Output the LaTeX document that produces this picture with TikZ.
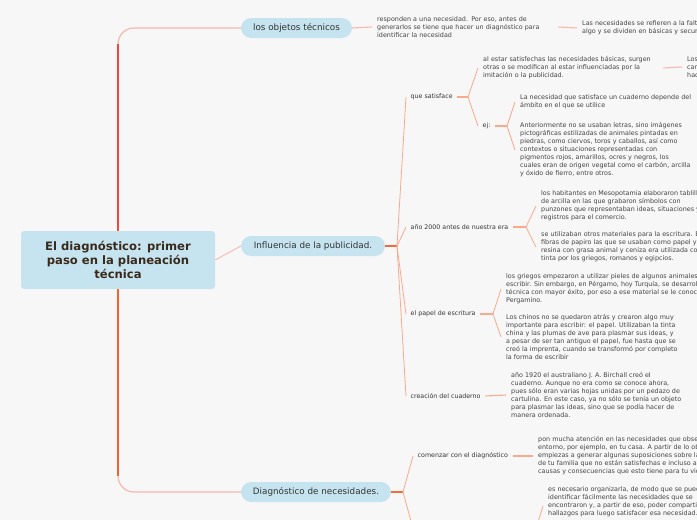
\documentclass[tikz,border=0pt]{standalone}
\usepackage{fontspec}
\setmainfont{DejaVu Sans}
\usetikzlibrary{positioning,calc}

\definecolor{bggray}{HTML}{F7F7F7}
\definecolor{nodeblue}{HTML}{C6E4F0}
\definecolor{rootbrown}{HTML}{3A2A1C}
\definecolor{txtgray}{HTML}{333333}
\definecolor{leafgray}{HTML}{444444}
\definecolor{trunkred}{HTML}{F0493A}
\definecolor{trunkorange}{HTML}{F4632E}
\definecolor{linkpink}{HTML}{F8B8AC}
\definecolor{stemorange}{HTML}{F26A3D}
\definecolor{fanorange}{HTML}{F9A98C}

\tikzset{
  topic/.style={fill=nodeblue, rounded corners=10pt, minimum height=20pt,
    inner sep=0pt, text=txtgray, font=\fontsize{8.8}{10}\selectfont},
  sub/.style={anchor=west, inner xsep=4.5pt, inner ysep=0pt, text=txtgray,
    font=\fontsize{6.3}{8}\selectfont},
  leaf/.style={anchor=west, align=left, inner xsep=5pt, inner ysep=0pt,
    text=leafgray, font=\fontsize{6.4}{8}\selectfont},
  fanline/.style={draw=fanorange, line width=0.8pt},
  stem/.style={draw=stemorange, line width=1.4pt},
  link/.style={draw=linkpink, line width=1.1pt}
}

\begin{document}
\begin{tikzpicture}[x=1pt, y=-1pt]
  \useasboundingbox (0,0) rectangle (697,520);
  \fill[bggray] (0,0) rectangle (697,520);
  \clip (0,0) rectangle (697,520);

  % main nodes
  \node[fill=nodeblue, rounded corners=3pt, minimum width=194pt, minimum height=58pt,
    inner sep=0pt, align=center, text=rootbrown,
    font=\bfseries\fontsize{11.6}{14}\selectfont] (root) at (118,260)
    {El diagnóstico: primer\\paso en la planeación\\técnica};
  \node[topic, minimum width=111pt] (objetos) at (296.5,28) {los objetos técnicos};
  \node[topic, minimum width=144pt] (infl) at (313,246) {Influencia de la publicidad.};
  \node[topic, minimum width=150pt] (diag) at (316,492) {Diagnóstico de necesidades.};

  % los objetos tecnicos
  \node[leaf, text width=176pt] (resp) at (372,27)
    {responden a una necesidad. Por eso, antes de\\generarlos se tiene que hacer un diagnóstico para\\identificar la necesidad};
  \node[leaf] (necesd) at (577,28)
    {Las necesidades se refieren a la falta de\\algo y se dividen en básicas y secundarias.};

  % influencia de la publicidad
  \coordinate (fI) at (397,246);
  \node[sub] (qs) at (406,97) {que satisface};
  \node[sub] (a2000) at (406,227) {año 2000 antes de nuestra era};
  \node[sub] (papel) at (406,314) {el papel de escritura};
  \node[sub] (creac) at (406,396) {creación del cuaderno};

  \coordinate (fQS) at (468,97);
  \node[leaf, text width=175pt] (satisf) at (478,68)
    {al estar satisfechas las necesidades básicas, surgen\\otras o se modifican al estar influenciadas por la\\imitación o la publicidad.};
  \node[leaf] (losc) at (682,67) {Los objetos\\cambian y se\\hacen};
  \node[sub] (ej) at (478,126) {ej:};
  \coordinate (fEj) at (507,126);
  \node[leaf] (cuad) at (515,102)
    {La necesidad que satisface un cuaderno depende del\\ámbito en el que se utilice};
  \node[leaf] (anter) at (515,150)
    {Anteriormente no se usaban letras, sino imágenes\\pictográficas estilizadas de animales pintadas en\\piedras, como ciervos, toros y caballos, así como\\contextos o situaciones representadas con\\pigmentos rojos, amarillos, ocres y negros, los\\cuales eran de origen vegetal como el carbón, arcilla\\y óxido de fierro, entre otros.};

  \coordinate (fA) at (526,227);
  \node[leaf] (habit) at (536,206)
    {los habitantes en Mesopotamia elaboraron tablillas\\de arcilla en las que grabaron símbolos con\\punzones que representaban ideas, situaciones y\\registros para el comercio.};
  \node[leaf] (utiliz) at (536,247)
    {se utilizaban otros materiales para la escritura. Eran las\\fibras de papiro las que se usaban como papel y\\resina con grasa animal y ceniza era utilizada como\\tinta por los griegos, romanos y egipcios.};

  \coordinate (fP) at (493,314);
  \node[leaf] (griegos) at (501,289)
    {los griegos empezaron a utilizar pieles de algunos animales para\\escribir. Sin embargo, en Pérgamo, hoy Turquía, se desarrolló esta\\técnica con mayor éxito, por eso a ese material se le conoce como\\Pergamino.};
  \node[leaf] (chinos) at (501,337)
    {Los chinos no se quedaron atrás y crearon algo muy\\importante para escribir: el papel. Utilizaban la tinta\\china y las plumas de ave para plasmar sus ideas, y\\a pesar de ser tan antiguo el papel, fue hasta que se\\creó la imprenta, cuando se transformó por completo\\la forma de escribir};

  \node[leaf] (a1920) at (506,395)
    {año 1920 el australiano J. A. Birchall creó el\\cuaderno. Aunque no era como se conoce ahora,\\pues sólo eran varias hojas unidas por un pedazo de\\cartulina. En este caso, ya no sólo se tenía un objeto\\para plasmar las ideas, sino que se podía hacer de\\manera ordenada.};

  % diagnostico de necesidades
  \coordinate (fD) at (403,492);
  \node[sub] (comenzar) at (413,456) {comenzar con el diagnóstico};
  \coordinate (sub2) at (414,532);
  \node[leaf] (pon) at (533,456)
    {pon mucha atención en las necesidades que observes en tu\\entorno, por ejemplo, en tu casa. A partir de lo observado\\empiezas a generar algunas suposiciones sobre las necesidades\\de tu familia que no están satisfechas e incluso algunas\\causas y consecuencias que esto tiene para tu vida.};
  \coordinate (fOrg) at (536,528);
  \node[leaf] (esnec) at (543,502)
    {es necesario organizarla, de modo que se pueda\\identificar fácilmente las necesidades que se\\encontraron y, a partir de eso, poder compartir los\\hallazgos para luego satisfacer esa necesidad.};

  % trunks from the root
  \draw[draw=linkpink, line width=1.2pt, rounded corners=16pt] (root.north) |- (objetos.west);
  \draw[draw=trunkred, line width=2pt] (root.north) -- ($(root.north |- objetos.west)+(0,16)$);
  \draw[draw=linkpink, line width=1.2pt, rounded corners=16pt] (root.south) |- (diag.west);
  \draw[draw=trunkorange, line width=2pt] (root.south) -- ($(root.south |- diag.west)+(0,-16)$);
  \draw[link, line width=0.9pt] (root.east) -- (infl.west);

  % connectors
  \draw[link] (objetos.east) -- (resp.west);
  \draw[link] (resp.east) -- (necesd.west);

  \draw[stem] (infl.east) -- (fI);
  \foreach \n in {qs,a2000,papel,creac}
    \draw[fanline] (fI) -- (\n.west);

  \draw[fanline, line width=1.1pt] (qs.east) -- (fQS);
  \draw[fanline] (fQS) -- (satisf.west);
  \draw[fanline] (fQS) -- (ej.west);
  \draw[link] (satisf.east) -- (losc.west);
  \draw[fanline, line width=1.1pt] (ej.east) -- (fEj);
  \draw[fanline] (fEj) -- (cuad.west);
  \draw[fanline] (fEj) -- (anter.west);

  \draw[fanline, line width=1.1pt] (a2000.east) -- (fA);
  \draw[fanline] (fA) -- (habit.west);
  \draw[fanline] (fA) -- (utiliz.west);

  \draw[fanline, line width=1.1pt] (papel.east) -- (fP);
  \draw[fanline] (fP) -- (griegos.west);
  \draw[fanline] (fP) -- (chinos.west);

  \draw[fanline, line width=1.1pt] (creac.east) -- (a1920.west);

  \draw[stem] (diag.east) -- (fD);
  \draw[fanline] (fD) -- (comenzar.west);
  \draw[fanline] (fD) -- (sub2);
  \draw[fanline, line width=1.1pt] (comenzar.east) -- (pon.west);
  \draw[fanline] (fOrg) -- ([yshift=-4pt]esnec.west);
\end{tikzpicture}
\end{document}
